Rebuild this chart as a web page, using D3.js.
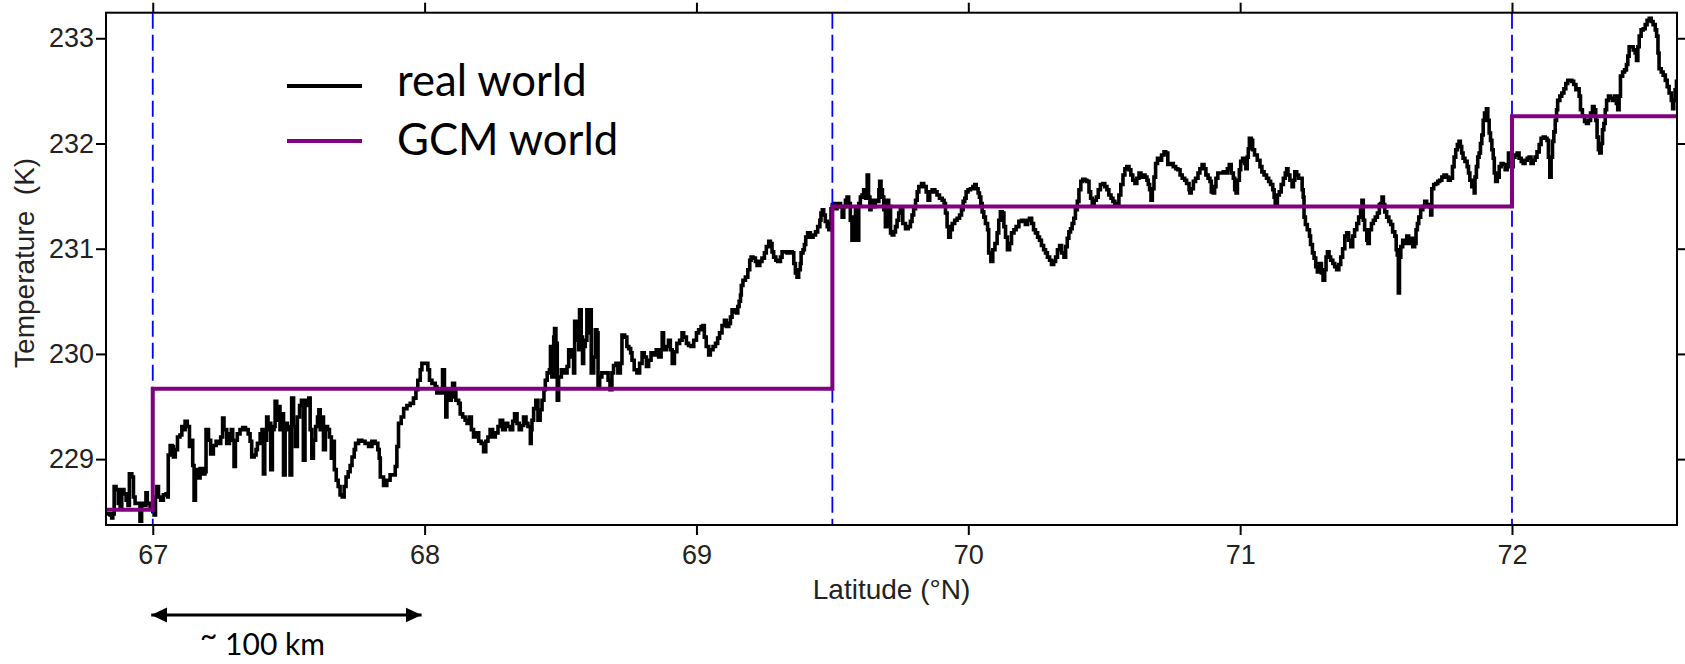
<!DOCTYPE html>
<html>
<head>
<meta charset="utf-8">
<script src="https://cdn.jsdelivr.net/npm/d3@7/dist/d3.min.js"></script>
<style>
  html, body { margin: 0; padding: 0; background: #fff; }
  svg { display: block; }
  text { white-space: pre; }
</style>
</head>
<body>
<svg id="chart" width="1685" height="664"></svg>
<script>
// Axis ticks
const latTicks = [67, 68, 69, 70, 71, 72];
const tempTicks = [229, 230, 231, 232, 233];

// GCM grid-box boundaries (dashed guides) and box-mean temperatures
const gridLats = [67, 69.5, 72];
const gcmEdges = [66.828, 67, 69.5, 72, 72.607];
const gcmTemps = [228.52, 229.67, 231.40, 232.26];

// Measured temperature along the flight track: [latitude °N, temperature K]
const realWorld = [
  [66.831,228.48],[66.843,228.47],[66.849,228.44],[66.853,228.48],[66.858,228.74],[66.865,228.71],[66.873,228.58],[66.880,228.55],
  [66.886,228.71],[66.894,228.67],[66.902,228.61],[66.909,228.56],[66.914,228.86],[66.923,228.83],[66.929,228.64],[66.935,228.58],
  [66.943,228.58],[66.953,228.41],[66.959,228.58],[66.968,228.56],[66.975,228.68],[66.980,228.58],[66.990,228.55],[67.000,228.50],
  [67.005,228.47],[67.010,228.64],[67.015,228.74],[67.021,228.64],[67.029,228.61],[67.039,228.66],[67.049,228.67],[67.055,228.64],
  [67.057,229.04],[67.064,229.13],[67.071,229.12],[67.076,229.02],[67.083,229.09],[67.091,229.21],[67.100,229.23],[67.107,229.31],
  [67.113,229.28],[67.119,229.36],[67.127,229.31],[67.135,229.12],[67.140,229.18],[67.147,228.94],[67.152,228.61],[67.157,228.90],
  [67.164,228.82],[67.174,228.91],[67.184,228.86],[67.192,228.88],[67.196,229.28],[67.205,229.18],[67.213,229.05],[67.223,229.13],
  [67.233,229.17],[67.242,229.15],[67.250,229.21],[67.257,229.39],[67.262,229.28],[67.272,229.15],[67.282,229.24],[67.289,229.28],
  [67.294,229.18],[67.299,228.93],[67.304,229.18],[67.311,229.24],[67.321,229.28],[67.331,229.30],[67.341,229.28],[67.351,229.24],
  [67.358,229.17],[67.364,229.02],[67.373,229.04],[67.380,229.09],[67.385,229.15],[67.395,229.24],[67.402,229.28],[67.407,228.86],
  [67.412,229.18],[67.419,229.40],[67.424,229.28],[67.429,229.34],[67.434,228.90],[67.440,229.28],[67.446,229.31],[67.450,229.55],
  [67.456,229.37],[67.462,229.50],[67.468,229.28],[67.475,229.43],[67.481,228.85],[67.487,229.34],[67.495,229.28],[67.500,229.31],
  [67.505,228.85],[67.511,229.58],[67.518,229.31],[67.525,229.12],[67.532,229.40],[67.540,229.51],[67.547,229.56],[67.554,228.99],
  [67.560,229.51],[67.567,229.56],[67.574,229.58],[67.579,229.28],[67.585,229.01],[67.591,229.18],[67.599,229.31],[67.606,229.40],
  [67.611,229.47],[67.616,229.28],[67.622,229.40],[67.628,229.09],[67.635,229.31],[67.643,229.28],[67.650,229.21],[67.657,229.01],
  [67.662,229.17],[67.668,228.90],[67.675,228.80],[67.682,228.74],[67.689,228.66],[67.697,228.64],[67.704,228.74],[67.711,228.83],
  [67.719,228.88],[67.726,228.94],[67.733,229.02],[67.741,229.09],[67.746,229.15],[67.757,229.18],[67.769,229.17],[67.781,229.15],
  [67.794,229.12],[67.806,229.17],[67.818,229.15],[67.828,229.09],[67.833,229.01],[67.837,228.83],[67.849,228.75],[67.861,228.80],
  [67.873,228.85],[67.892,228.93],[67.898,229.12],[67.904,229.34],[67.914,229.40],[67.923,229.48],[67.935,229.51],[67.947,229.53],
  [67.959,229.58],[67.968,229.66],[67.975,229.75],[67.984,229.85],[67.990,229.91],[68.002,229.91],[68.012,229.85],[68.018,229.75],
  [68.027,229.72],[68.039,229.69],[68.045,229.63],[68.051,229.66],[68.061,229.63],[68.066,229.85],[68.073,229.66],[68.078,229.40],
  [68.082,229.66],[68.091,229.56],[68.098,229.59],[68.103,229.72],[68.110,229.66],[68.115,229.56],[68.125,229.53],[68.131,229.43],
  [68.140,229.40],[68.149,229.37],[68.156,229.34],[68.164,229.40],[68.172,229.28],[68.180,229.21],[68.189,229.25],[68.199,229.17],
  [68.208,229.15],[68.217,229.07],[68.225,229.17],[68.233,229.21],[68.241,229.28],[68.250,229.21],[68.260,229.25],[68.270,229.31],
  [68.278,229.37],[68.287,229.28],[68.297,229.34],[68.306,229.31],[68.315,229.28],[68.324,229.36],[68.331,229.43],[68.340,229.34],
  [68.348,229.28],[68.356,229.32],[68.364,229.40],[68.373,229.34],[68.380,229.31],[68.389,229.15],[68.392,229.28],[68.395,229.37],
  [68.401,229.48],[68.409,229.56],[68.417,229.37],[68.425,229.47],[68.432,229.56],[68.439,229.66],[68.444,229.75],[68.451,229.82],
  [68.459,229.85],[68.463,230.07],[68.468,229.78],[68.475,230.16],[68.478,230.24],[68.483,230.10],[68.488,229.56],[68.493,229.78],
  [68.503,229.85],[68.511,229.82],[68.524,229.88],[68.530,230.04],[68.540,229.97],[68.548,229.82],[68.552,230.31],[68.557,230.13],
  [68.567,230.04],[68.570,230.42],[68.576,230.16],[68.581,229.91],[68.585,230.07],[68.591,230.13],[68.597,230.42],[68.603,230.20],
  [68.608,230.42],[68.613,229.82],[68.622,229.97],[68.628,230.23],[68.634,230.20],[68.638,229.69],[68.644,229.78],[68.652,229.82],
  [68.665,229.82],[68.675,229.75],[68.682,229.66],[68.689,229.82],[68.695,229.89],[68.704,229.91],[68.711,229.82],[68.720,229.91],
  [68.726,230.18],[68.736,230.16],[68.744,230.07],[68.751,230.05],[68.758,230.01],[68.763,229.94],[68.771,229.85],[68.781,229.82],
  [68.791,229.91],[68.800,230.01],[68.808,229.97],[68.816,229.88],[68.824,229.94],[68.833,230.01],[68.843,229.99],[68.852,230.04],
  [68.861,229.97],[68.870,230.04],[68.874,230.20],[68.879,230.04],[68.889,230.07],[68.897,230.13],[68.904,230.04],[68.911,229.91],
  [68.919,230.02],[68.928,230.10],[68.938,230.13],[68.947,230.20],[68.953,230.16],[68.963,230.10],[68.971,230.08],[68.980,230.07],
  [68.990,230.13],[69.000,230.20],[69.008,230.23],[69.017,230.26],[69.024,230.27],[69.029,230.16],[69.036,230.07],[69.045,229.99],
  [69.051,230.04],[69.061,230.07],[69.070,230.10],[69.078,230.15],[69.085,230.20],[69.094,230.27],[69.103,230.32],[69.110,230.26],
  [69.119,230.29],[69.125,230.35],[69.131,230.42],[69.139,230.40],[69.147,230.39],[69.152,230.45],[69.157,230.50],[69.162,230.56],
  [69.165,230.65],[69.171,230.70],[69.180,230.73],[69.189,230.80],[69.196,230.89],[69.201,230.92],[69.208,230.91],[69.217,230.88],
  [69.223,230.84],[69.233,230.88],[69.241,230.91],[69.250,230.96],[69.257,231.02],[69.266,231.07],[69.272,231.05],[69.278,230.97],
  [69.284,230.92],[69.292,230.89],[69.299,230.88],[69.309,230.92],[69.315,230.97],[69.323,230.97],[69.333,230.96],[69.343,230.97],
  [69.352,230.96],[69.358,230.86],[69.364,230.77],[69.370,230.73],[69.376,230.80],[69.382,230.86],[69.385,230.96],[69.392,230.99],
  [69.397,231.04],[69.402,231.11],[69.409,231.15],[69.419,231.11],[69.429,231.13],[69.438,231.16],[69.446,231.21],[69.454,231.27],
  [69.458,231.34],[69.463,231.37],[69.468,231.32],[69.474,231.26],[69.481,231.21],[69.487,231.18],[69.490,231.24],[69.495,231.38],
  [69.500,231.42],[69.505,231.43],[69.511,231.38],[69.517,231.40],[69.523,231.43],[69.530,231.40],[69.536,231.30],[69.542,231.40],
  [69.548,231.46],[69.554,231.49],[69.560,231.43],[69.566,231.27],[69.572,231.08],[69.579,231.30],[69.585,231.37],[69.591,231.08],
  [69.597,231.43],[69.603,231.49],[69.609,231.51],[69.615,231.56],[69.622,231.48],[69.628,231.70],[69.633,231.49],[69.638,231.37],
  [69.642,231.46],[69.650,231.40],[69.658,231.46],[69.665,231.45],[69.671,231.56],[69.674,231.64],[69.679,231.56],[69.684,231.49],
  [69.689,231.37],[69.695,231.21],[69.701,231.46],[69.707,231.40],[69.714,231.15],[69.720,231.13],[69.726,231.16],[69.732,231.21],
  [69.738,231.27],[69.744,231.34],[69.750,231.37],[69.759,231.24],[69.769,231.19],[69.779,231.21],[69.787,231.26],[69.793,231.32],
  [69.799,231.38],[69.806,231.46],[69.812,231.54],[69.818,231.59],[69.828,231.62],[69.836,231.59],[69.845,231.54],[69.852,231.46],
  [69.858,231.54],[69.867,231.56],[69.877,231.54],[69.885,231.51],[69.894,231.48],[69.904,231.46],[69.911,231.43],[69.916,231.34],
  [69.922,231.21],[69.928,231.11],[69.934,231.18],[69.941,231.24],[69.950,231.27],[69.959,231.29],[69.968,231.32],[69.975,231.37],
  [69.981,231.45],[69.987,231.48],[69.992,231.54],[69.999,231.56],[70.008,231.57],[70.017,231.59],[70.024,231.61],[70.029,231.57],
  [70.036,231.53],[70.041,231.49],[70.046,231.43],[70.051,231.35],[70.057,231.30],[70.063,231.24],[70.071,231.18],[70.075,230.96],
  [70.083,230.88],[70.090,230.99],[70.098,231.05],[70.106,231.15],[70.112,231.27],[70.118,231.35],[70.125,231.34],[70.131,231.21],
  [70.137,231.11],[70.144,230.99],[70.152,231.05],[70.159,231.15],[70.168,231.18],[70.176,231.21],[70.186,231.26],[70.196,231.27],
  [70.204,231.26],[70.210,231.23],[70.218,231.27],[70.225,231.29],[70.233,231.24],[70.240,231.18],[70.247,231.15],[70.255,231.11],
  [70.262,231.08],[70.269,231.03],[70.277,230.99],[70.284,230.96],[70.291,230.92],[70.299,230.89],[70.306,230.85],[70.314,230.88],
  [70.321,230.92],[70.328,230.99],[70.336,231.03],[70.343,230.96],[70.352,230.92],[70.358,231.02],[70.364,231.10],[70.370,231.16],
  [70.376,231.19],[70.382,231.24],[70.388,231.29],[70.394,231.37],[70.401,231.45],[70.407,231.56],[70.414,231.64],[70.421,231.66],
  [70.429,231.65],[70.436,231.64],[70.444,231.54],[70.450,231.48],[70.456,231.43],[70.463,231.46],[70.471,231.49],[70.478,231.56],
  [70.486,231.61],[70.495,231.62],[70.502,231.59],[70.510,231.56],[70.517,231.51],[70.525,231.48],[70.532,231.45],[70.539,231.43],
  [70.547,231.43],[70.554,231.51],[70.561,231.61],[70.569,231.70],[70.576,231.76],[70.583,231.78],[70.591,231.75],[70.598,231.70],
  [70.605,231.65],[70.613,231.62],[70.620,231.67],[70.628,231.72],[70.635,231.68],[70.642,231.70],[70.650,231.68],[70.657,231.65],
  [70.662,231.61],[70.667,231.56],[70.672,231.46],[70.677,231.57],[70.683,231.68],[70.689,231.81],[70.696,231.86],[70.704,231.84],
  [70.711,231.89],[70.720,231.92],[70.726,231.91],[70.734,231.80],[70.744,231.81],[70.754,231.78],[70.763,231.76],[70.771,231.75],
  [70.779,231.70],[70.787,231.67],[70.796,231.65],[70.803,231.62],[70.812,231.56],[70.815,231.53],[70.820,231.57],[70.828,231.64],
  [70.836,231.67],[70.845,231.72],[70.852,231.76],[70.860,231.80],[70.867,231.76],[70.874,231.70],[70.882,231.67],[70.889,231.64],
  [70.894,231.54],[70.901,231.53],[70.906,231.59],[70.911,231.67],[70.918,231.72],[70.928,231.72],[70.938,231.73],[70.947,231.72],
  [70.953,231.76],[70.960,231.80],[70.967,231.72],[70.975,231.67],[70.980,231.56],[70.985,231.53],[70.990,231.65],[70.997,231.75],
  [71.002,231.83],[71.009,231.86],[71.017,231.81],[71.021,231.76],[71.026,231.87],[71.030,231.95],[71.034,232.05],[71.041,232.03],
  [71.046,231.94],[71.053,231.89],[71.063,231.84],[71.073,231.78],[71.080,231.73],[71.088,231.70],[71.097,231.67],[71.105,231.64],
  [71.112,231.61],[71.120,231.56],[71.125,231.49],[71.129,231.43],[71.137,231.51],[71.144,231.54],[71.151,231.61],[71.159,231.67],
  [71.166,231.72],[71.171,231.76],[71.176,231.70],[71.183,231.65],[71.191,231.59],[71.196,231.65],[71.201,231.73],[71.208,231.70],
  [71.215,231.67],[71.223,231.67],[71.228,231.56],[71.232,231.49],[71.235,231.30],[71.240,231.23],[71.247,231.18],[71.255,231.12],
  [71.259,231.04],[71.266,230.96],[71.272,230.91],[71.278,230.83],[71.284,230.78],[71.291,230.86],[71.299,230.77],[71.305,230.70],
  [71.311,230.80],[71.316,230.92],[71.321,230.97],[71.327,230.92],[71.333,230.89],[71.341,230.86],[71.348,230.83],[71.355,230.80],
  [71.363,230.85],[71.370,230.92],[71.377,231.00],[71.385,231.12],[71.392,231.15],[71.399,231.08],[71.407,231.02],[71.414,231.12],
  [71.421,231.18],[71.429,231.24],[71.436,231.30],[71.443,231.37],[71.448,231.46],[71.453,231.27],[71.458,231.18],[71.466,231.08],
  [71.470,231.05],[71.475,231.18],[71.483,231.24],[71.490,231.27],[71.497,231.30],[71.505,231.34],[71.512,231.42],[71.517,231.43],
  [71.522,231.49],[71.527,231.42],[71.532,231.35],[71.539,231.30],[71.547,231.26],[71.554,231.23],[71.561,231.16],[71.569,231.12],
  [71.574,230.99],[71.578,230.94],[71.582,230.58],[71.586,230.92],[71.591,231.02],[71.598,231.08],[71.605,231.05],[71.613,231.12],
  [71.620,231.05],[71.627,231.10],[71.635,231.02],[71.642,231.05],[71.647,231.18],[71.652,231.24],[71.657,231.30],[71.664,231.37],
  [71.672,231.40],[71.679,231.45],[71.686,231.42],[71.695,231.40],[71.701,231.32],[71.705,231.57],[71.712,231.61],[71.720,231.62],
  [71.727,231.64],[71.734,231.65],[71.742,231.68],[71.750,231.70],[71.759,231.68],[71.766,231.65],[71.773,231.67],[71.781,231.78],
  [71.787,231.87],[71.793,231.94],[71.799,231.99],[71.805,232.02],[71.810,231.97],[71.815,231.91],[71.820,231.86],[71.827,231.83],
  [71.835,231.78],[71.840,231.72],[71.845,231.65],[71.852,231.59],[71.861,231.53],[71.864,231.68],[71.869,231.78],[71.874,231.87],
  [71.879,231.91],[71.884,232.00],[71.889,232.08],[71.894,232.22],[71.899,232.29],[71.906,232.33],[71.911,232.22],[71.916,232.10],
  [71.921,232.03],[71.926,231.94],[71.931,231.86],[71.935,231.72],[71.940,231.64],[71.946,231.68],[71.953,231.78],[71.960,231.81],
  [71.967,231.80],[71.975,231.75],[71.982,231.78],[71.987,231.91],[71.992,231.87],[71.997,231.78],[72.004,231.87],[72.011,231.89],
  [72.019,231.91],[72.026,231.86],[72.034,231.83],[72.041,231.81],[72.048,231.84],[72.056,231.86],[72.063,231.87],[72.070,231.81],
  [72.078,231.84],[72.085,231.87],[72.092,231.92],[72.100,231.99],[72.107,232.05],[72.115,232.06],[72.122,232.05],[72.129,232.03],
  [72.134,231.87],[72.139,231.68],[72.144,231.87],[72.149,232.02],[72.154,232.11],[72.159,232.22],[72.164,232.32],[72.168,232.41],
  [72.176,232.45],[72.183,232.48],[72.191,232.52],[72.198,232.57],[72.205,232.60],[72.213,232.60],[72.220,232.59],[72.227,232.56],
  [72.235,232.51],[72.242,232.52],[72.247,232.45],[72.252,232.32],[72.259,232.26],[72.267,232.21],[72.274,232.19],[72.281,232.22],
  [72.289,232.29],[72.296,232.35],[72.302,232.32],[72.308,232.22],[72.313,232.06],[72.318,231.94],[72.323,231.91],[72.328,232.00],
  [72.333,232.13],[72.338,232.19],[72.343,232.32],[72.348,232.41],[72.355,232.45],[72.362,232.43],[72.370,232.41],[72.377,232.45],
  [72.384,232.38],[72.389,232.32],[72.394,232.45],[72.399,232.64],[72.407,232.68],[72.414,232.70],[72.421,232.75],[72.426,232.83],
  [72.431,232.92],[72.438,232.92],[72.446,232.89],[72.453,232.86],[72.458,232.79],[72.463,232.92],[72.468,233.02],[72.475,233.08],
  [72.483,233.09],[72.490,233.13],[72.497,233.17],[72.505,233.19],[72.512,233.16],[72.519,233.13],[72.527,233.08],[72.532,233.02],
  [72.537,232.86],[72.541,232.71],[72.549,232.68],[72.556,232.65],[72.564,232.60],[72.571,232.54],[72.578,232.48],[72.586,232.41],
  [72.591,232.33],[72.595,232.41],[72.600,232.51],[72.605,232.59]
];

const legendLabels = ["real world", "GCM world"];
const scaleLabel = "100 km";
const scaleSpan = [67, 68];   // the arrow spans one degree of latitude

// Colours
const colReal = "#000000";
const colGCM = "#800080";
const colGrid = "#0000ff";
const colText = "#222222";

const svg = d3.select("#chart");
svg.append("rect").attr("width", 1685).attr("height", 664).attr("fill", "#fff");

const margin = { left: 106, right: 8, top: 12.7, bottom: 139 };
const W = 1685, H = 664;
const x = d3.scaleLinear().domain([66.828, 72.607]).range([margin.left, W - margin.right]);
const y = d3.scaleLinear().domain([228.374, 233.243]).range([H - margin.bottom, margin.top]);
const [x0, x1] = x.range();
const [yb, yt] = y.range();

const axisFont = "'Liberation Sans', Arial, Helvetica, sans-serif";
const legendFont = "Lato, 'Open Sans', sans-serif";

const defs = svg.append("defs");
defs.append("clipPath").attr("id", "plotClip")
  .append("rect").attr("x", x0).attr("y", yt).attr("width", x1 - x0).attr("height", yb - yt);

// real-world trace
const stepLine = d3.line().x(d => x(d[0])).y(d => y(d[1])).curve(d3.curveStepAfter);
svg.append("path")
  .datum(realWorld)
  .attr("clip-path", "url(#plotClip)")
  .attr("fill", "none")
  .attr("stroke", colReal)
  .attr("stroke-width", 3.6)
  .attr("stroke-linejoin", "miter")
  .attr("stroke-linecap", "square")
  .attr("d", stepLine);

// dashed grid-box boundaries
svg.append("g").selectAll("line").data(gridLats).join("line")
  .attr("x1", d => x(d)).attr("x2", d => x(d))
  .attr("y1", yt).attr("y2", yb)
  .attr("stroke", colGrid).attr("stroke-width", 1.8)
  .attr("stroke-dasharray", "16,6");

// GCM box means as a step function
const gcmPts = gcmEdges.map((e, i) => [e, gcmTemps[Math.min(i, gcmTemps.length - 1)]]);
svg.append("path")
  .datum(gcmPts)
  .attr("clip-path", "url(#plotClip)")
  .attr("fill", "none")
  .attr("stroke", colGCM)
  .attr("stroke-width", 4)
  .attr("d", stepLine);

// axes
function styleAxis(g, showText) {
  g.select(".domain").remove();
  g.selectAll(".tick line").attr("stroke", "#000").attr("stroke-width", 2);
  g.selectAll(".tick text")
    .attr("fill", colText)
    .style("font-family", axisFont)
    .style("font-size", "27px");
  if (!showText) g.selectAll(".tick text").remove();
}

svg.append("g").attr("transform", `translate(0,${yb})`)
  .call(d3.axisBottom(x).tickValues(latTicks).tickSize(10).tickPadding(10).tickFormat(d3.format("d")))
  .call(g => styleAxis(g, true));
svg.append("g").attr("transform", `translate(0,${yt})`)
  .call(d3.axisTop(x).tickValues(latTicks).tickSize(10))
  .call(g => styleAxis(g, false));
svg.append("g").attr("transform", `translate(${x0},0)`)
  .call(d3.axisLeft(y).tickValues(tempTicks).tickSize(10).tickPadding(2).tickFormat(d3.format("d")))
  .call(g => styleAxis(g, true));
svg.append("g").attr("transform", `translate(${x1},0)`)
  .call(d3.axisRight(y).tickValues(tempTicks).tickSize(8))
  .call(g => styleAxis(g, false));

// frame
svg.append("rect")
  .attr("x", x0).attr("y", yt).attr("width", x1 - x0).attr("height", yb - yt)
  .attr("fill", "none").attr("stroke", "#000").attr("stroke-width", 2);

// axis titles
svg.append("text")
  .attr("x", (x0 + x1) / 2).attr("y", 599)
  .attr("text-anchor", "middle")
  .attr("fill", colText)
  .style("font-family", axisFont).style("font-size", "28px")
  .text("Latitude (°N)");
svg.append("text")
  .attr("transform", `translate(34,${(yt + yb) / 2 - 6}) rotate(-90)`)
  .attr("text-anchor", "middle")
  .attr("fill", colText)
  .style("font-family", axisFont).style("font-size", "28px")
  .text("Temperature  (K)");

// legend
const legend = svg.append("g");
const legendColors = [colReal, colGCM];
const legendY = [86, 141];
const legendTexts = legendLabels.map((lab, i) => {
  legend.append("line")
    .attr("x1", 287).attr("x2", 362).attr("y1", legendY[i]).attr("y2", legendY[i])
    .attr("stroke", legendColors[i]).attr("stroke-width", 4);
  return legend.append("text")
    .attr("x", 397).attr("y", legendY[i] + 10 + (i === 1 ? 4 : 0))
    .attr("fill", "#000")
    .style("font-family", legendFont).style("font-size", "42px")
    .text(lab);
});
// size the legend type so that the two labels together span about 411 px
const measured = legendTexts.reduce((s, t) => s + t.node().getComputedTextLength(), 0);
if (measured > 0) {
  const fs = Math.max(36, Math.min(50, 42 * 411 / measured));
  legendTexts.forEach(t => t.style("font-size", fs + "px"));
}

// scale arrow (one degree of latitude)
const arrowY = 615;
["start", "end"].forEach(k => {
  defs.append("marker")
    .attr("id", "arrow-" + k)
    .attr("viewBox", "0 0 16 16")
    .attr("refX", k === "end" ? 16 : 0).attr("refY", 8)
    .attr("markerWidth", 16).attr("markerHeight", 16)
    .attr("markerUnits", "userSpaceOnUse")
    .attr("orient", "auto")
    .append("path")
    .attr("d", k === "end" ? "M0,0.5 L16,8 L0,15.5 Z" : "M16,0.5 L0,8 L16,15.5 Z")
    .attr("fill", "#000");
});
svg.append("line")
  .attr("x1", x(scaleSpan[0]) - 1.5).attr("x2", x(scaleSpan[1]) - 3)
  .attr("y1", arrowY).attr("y2", arrowY)
  .attr("stroke", "#000").attr("stroke-width", 3)
  .attr("marker-start", "url(#arrow-start)")
  .attr("marker-end", "url(#arrow-end)");
const scaleText = svg.append("text")
  .attr("x", 200).attr("y", 655)
  .attr("fill", "#000")
  .style("font-family", legendFont).style("font-size", "30px");
scaleText.append("tspan").attr("dy", -9).text("~");
scaleText.append("tspan").attr("dy", 9).text(" " + scaleLabel);
</script>
</body>
</html>
